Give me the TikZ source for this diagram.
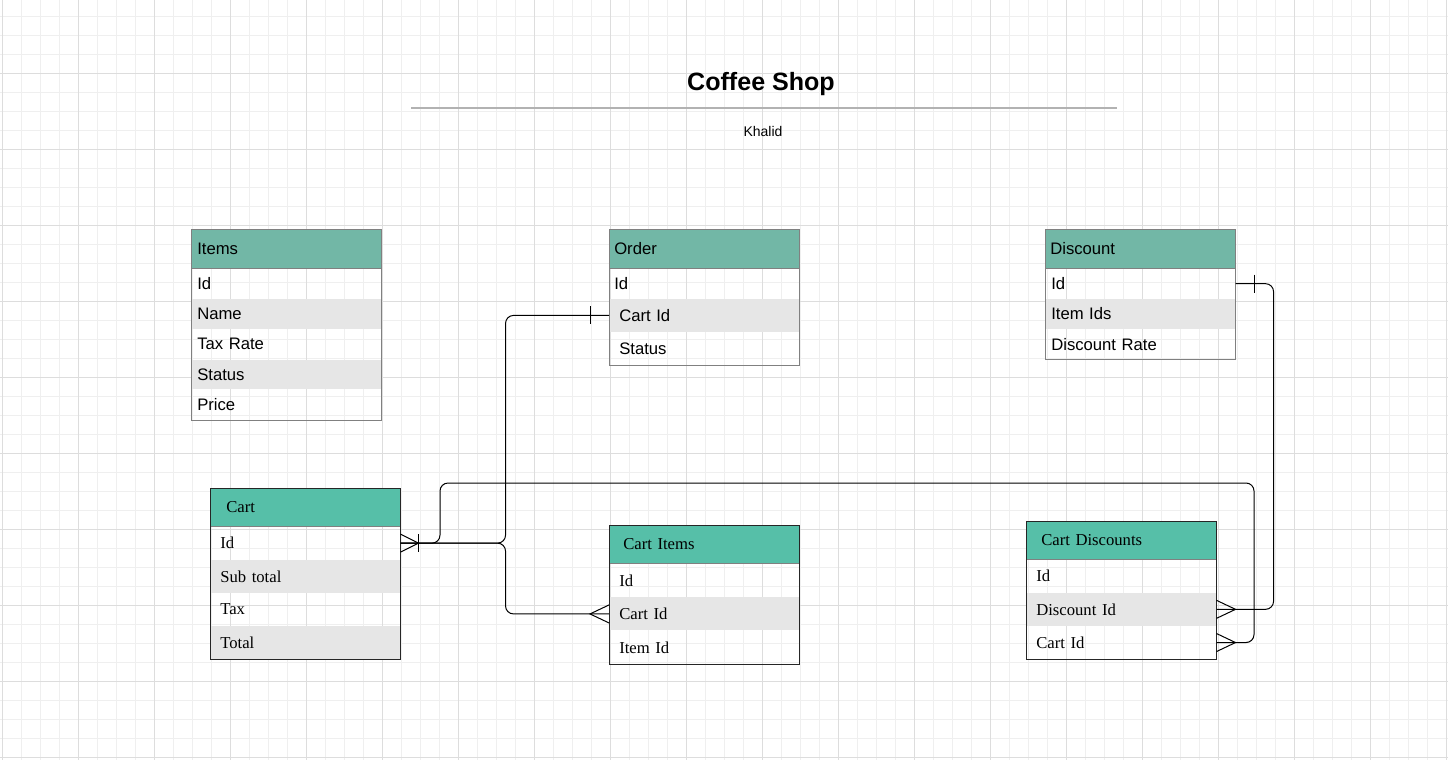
\documentclass[tikz,border=0pt]{standalone}
\usepackage{fontspec}
\setmainfont{Liberation Sans}
\newfontfamily\serifface{Liberation Serif}
\usetikzlibrary{positioning}

\definecolor{headgreen}{HTML}{72B7A6}
\definecolor{cartgreen}{HTML}{56BFA8}
\definecolor{rowgray}{HTML}{E6E6E6}
\definecolor{tblgray}{HTML}{808080}
\definecolor{gridminor}{HTML}{EFEFEF}
\definecolor{gridmajor}{HTML}{DDDDDD}

\begin{document}
\begin{tikzpicture}[x=0.75pt,y=-0.75pt,
    inset/.style={execute at begin node={\noindent\hspace*{#1}}}]
  \tikzstyle{tblhead} = [anchor=north west, fill=headgreen, draw=tblgray, inner xsep=0pt, text width=142.5pt, align=left, minimum height=29.25pt, font={\fontsize{12.5}{15}\selectfont}]
  \tikzstyle{carthead} = [tblhead, fill=cartgreen, minimum height=28.5pt, font={\serifface\fontsize{12.5}{15}\selectfont}]
  \tikzstyle{field} = [inner xsep=0pt, text width=142.5pt, align=left, minimum height=22.3pt, font={\fontsize{12.5}{15}\selectfont}]
  \tikzstyle{cartfield} = [field, minimum height=24.5pt, font={\serifface\fontsize{12.5}{15}\selectfont}]
  \tikzstyle{shaded} = [fill=rowgray]
  \tikzstyle{link} = [black, line width=0.75pt, rounded corners=6pt]
  \tikzstyle{endmark} = [black, line width=0.75pt]

  \useasboundingbox (0,0) rectangle (1448,760);
  \fill[white] (0,0) rectangle (1448,760);

  % background grid
  \foreach \x in {2,21,...,1448} \draw[gridminor, line width=0.75pt] (\x,0) -- (\x,760);
  \foreach \y in {16,35,...,760} \draw[gridminor, line width=0.75pt] (0,\y) -- (1448,\y);
  \foreach \x in {2,78,...,1448} \draw[gridmajor, line width=0.75pt] (\x,0) -- (\x,760);
  \foreach \y in {73,149,...,760} \draw[gridmajor, line width=0.75pt] (0,\y) -- (1448,\y);

  % title
  \node (title) at (761,84) {\fontsize{18.8}{22}\selectfont\bfseries Coffee Shop};
  \node (author) at (763,131) {\fontsize{10.5}{13}\selectfont Khalid};
  \coordinate (rule-l) at (411,108);
  \coordinate (rule-r) at (1117,108);
  \draw[black!30, line width=1.5pt] (rule-l) -- (rule-r);

  % Items
  \node[tblhead, inset=4.5pt] (items) at (191,229) {Items};
  \node[field, inset=4.5pt, below=0pt of items]           (items-1) {Id};
  \node[field, shaded, inset=4.5pt, below=0pt of items-1] (items-2) {Name};
  \node[field, inset=4.5pt, below=0pt of items-2]         (items-3) {Tax Rate};
  \node[field, shaded, inset=4.5pt, below=0pt of items-3] (items-4) {Status};
  \node[field, inset=4.5pt, below=0pt of items-4]         (items-5) {Price};
  \draw[tblgray] (items.north west) rectangle (items-5.south east);

  % Order
  \node[tblhead, inset=3.75pt] (order) at (609,229) {Order};
  \node[field, inset=3.75pt, below=0pt of order]                                (order-1) {Id};
  \node[field, shaded, minimum height=24.5pt, inset=7.5pt, below=0pt of order-1] (order-2) {Cart Id};
  \node[field, minimum height=24.5pt, inset=7.5pt, below=0pt of order-2]         (order-3) {Status};
  \draw[tblgray] (order.north west) rectangle (order-3.south east);

  % Discount
  \node[tblhead, inset=3.75pt] (disc) at (1045,229) {Discount};
  \node[field, inset=4.5pt, below=0pt of disc]           (disc-1) {Id};
  \node[field, shaded, inset=4.5pt, below=0pt of disc-1] (disc-2) {Item Ids};
  \node[field, inset=4.5pt, below=0pt of disc-2]         (disc-3) {Discount Rate};
  \draw[tblgray] (disc.north west) rectangle (disc-3.south east);

  % Cart
  \node[carthead, inset=12pt] (cart) at (210,488) {Cart};
  \node[cartfield, inset=7.5pt, below=0pt of cart]           (cart-1) {Id};
  \node[cartfield, shaded, inset=7.5pt, below=0pt of cart-1] (cart-2) {Sub total};
  \node[cartfield, inset=7.5pt, below=0pt of cart-2]         (cart-3) {Tax};
  \node[cartfield, shaded, inset=7.5pt, below=0pt of cart-3] (cart-4) {Total};
  \draw[black!85] (cart.north west) rectangle (cart-4.south east);

  % Cart Items
  \node[carthead, inset=10.5pt] (ci) at (609,525) {Cart Items};
  \node[cartfield, minimum height=24.8pt, inset=7.5pt, below=0pt of ci]           (ci-1) {Id};
  \node[cartfield, shaded, minimum height=24.8pt, inset=7.5pt, below=0pt of ci-1] (ci-2) {Cart Id};
  \node[cartfield, minimum height=24.8pt, inset=7.5pt, below=0pt of ci-2]         (ci-3) {Item Id};
  \draw[black!85] (ci.north west) rectangle (ci-3.south east);

  % Cart Discounts
  \node[carthead, inset=11.25pt] (cd) at (1026,521) {Cart Discounts};
  \node[cartfield, inset=7.5pt, below=0pt of cd]           (cd-1) {Id};
  \node[cartfield, shaded, inset=7.5pt, below=0pt of cd-1] (cd-2) {Discount Id};
  \node[cartfield, inset=7.5pt, below=0pt of cd-2]         (cd-3) {Cart Id};
  \draw[black!85] (cd.north west) rectangle (cd-3.south east);

  % relations
  \path (cart-1.east) ++(105,0) coordinate (trunk);
  \coordinate (loop-l) at (440,483);
  \coordinate (loop-r) at (1254,483);
  \path (disc-1.east) ++(38,0) coordinate (disc-r);

  \draw[link] (cart-1.east) -- (trunk) |- (order-2.west);
  \draw[link] (cart-1.east) -- (trunk) |- (ci-2.west);
  \draw[link] (cart-1.east) -| (loop-l) -- (loop-r) |- (cd-3.east);
  \draw[link] (disc-1.east) -- (disc-r) |- (cd-2.east);

  % line ends
  \draw[endmark] (cart-1.east) ++(0,-9) -- ++(18,9) -- ++(-18,9);
  \draw[endmark] (cart-1.east) ++(18,-9) -- ++(0,18);
  \draw[endmark] (order-2.west) ++(-19,-9) -- ++(0,18);
  \draw[endmark] (ci-2.west) ++(0,-9) -- ++(-19,9) -- ++(19,9);
  \draw[endmark] (disc-1.east) ++(19,-9) -- ++(0,18);
  \draw[endmark] (cd-2.east) ++(0,-9) -- ++(19,9) -- ++(-19,9);
  \draw[endmark] (cd-3.east) ++(0,-9) -- ++(19,9) -- ++(-19,9);
\end{tikzpicture}
\end{document}
